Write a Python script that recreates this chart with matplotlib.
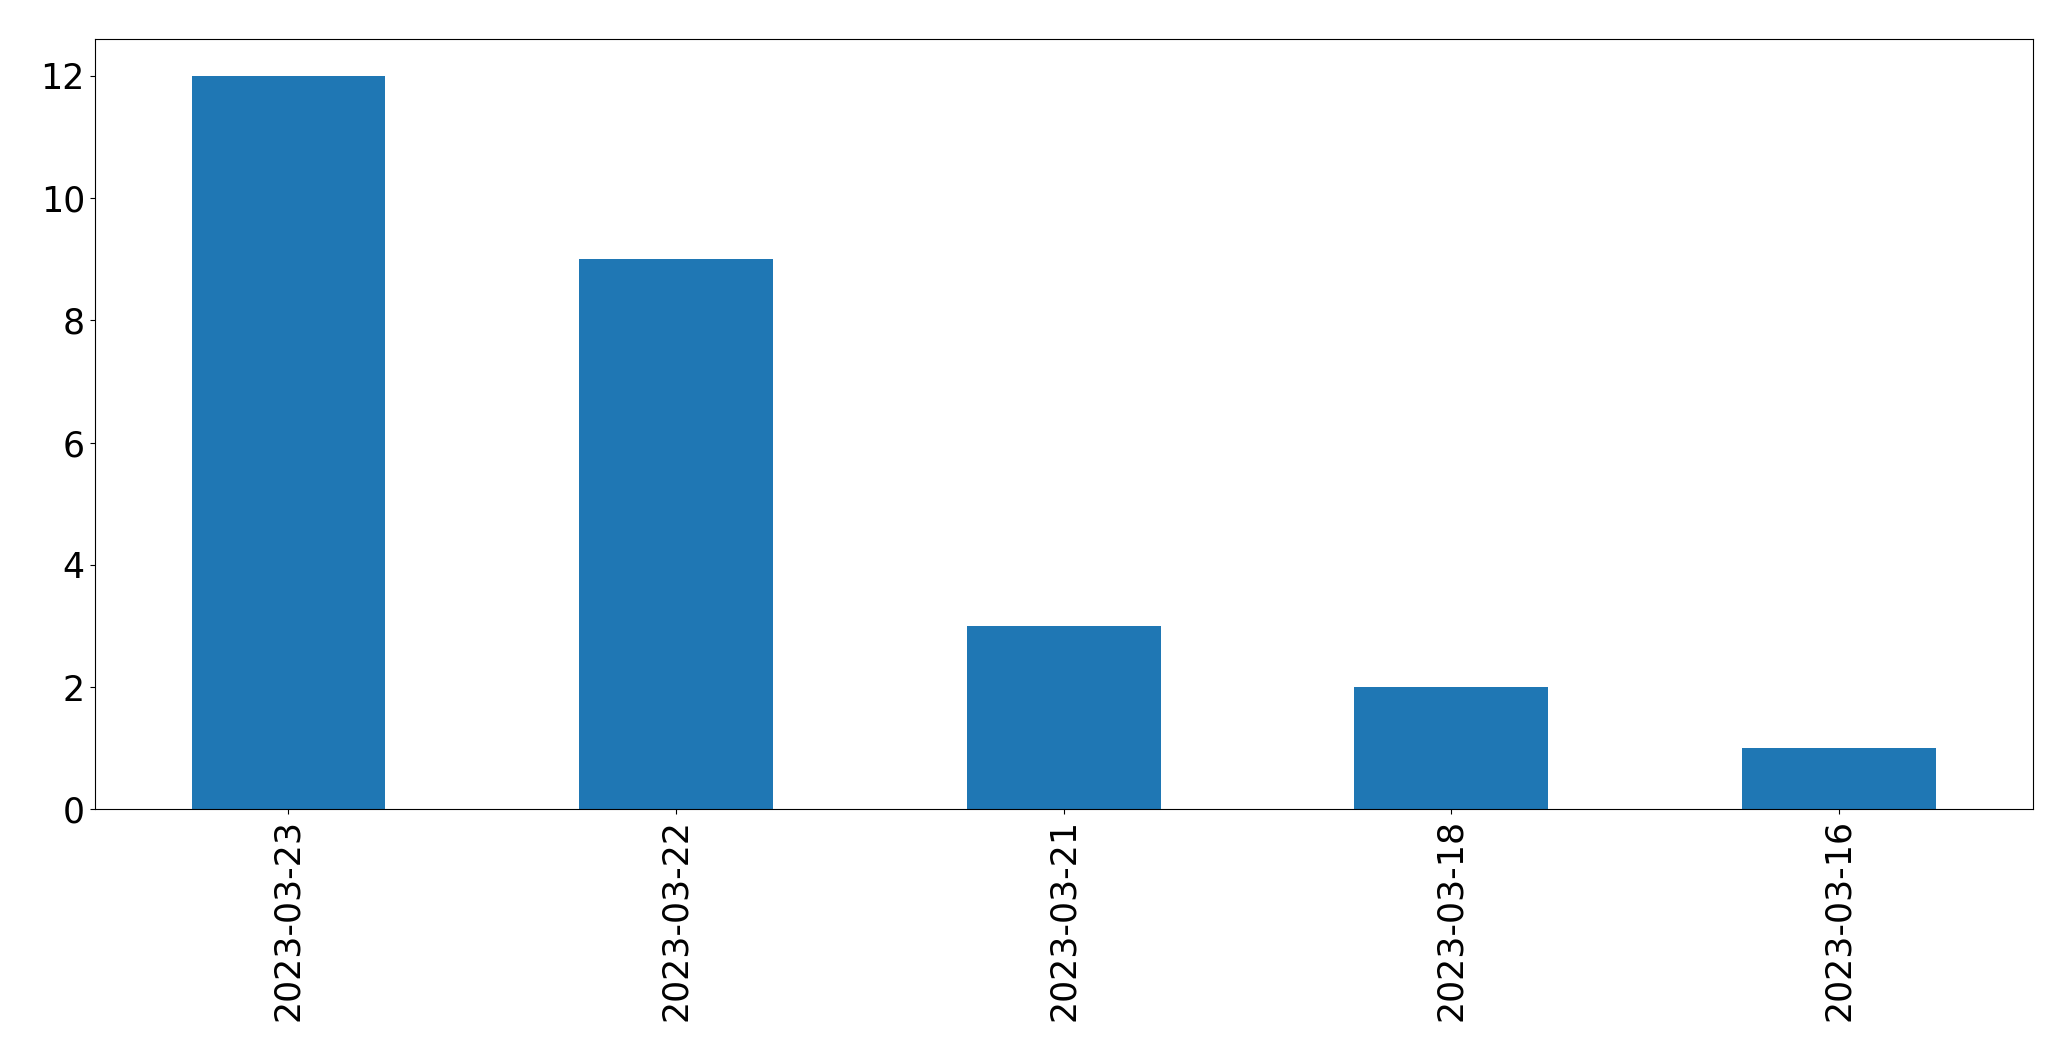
import matplotlib
matplotlib.use("Agg")
import matplotlib.pyplot as plt
import pandas as pd

dates = ["2023-03-23", "2023-03-22", "2023-03-21", "2023-03-18", "2023-03-16"]
counts = [12, 9, 3, 2, 1]

fig = plt.figure(figsize=(20.71, 10.61), dpi=100)
ax = fig.add_axes([0.0457, 0.2372, 0.9358, 0.7258])
s = pd.Series(counts, index=dates)
s.plot(kind="bar", ax=ax, color="#1f77b4", fontsize=25)
ax.tick_params(axis="both", labelsize=25)
fig.savefig("out.png", dpi=100)
